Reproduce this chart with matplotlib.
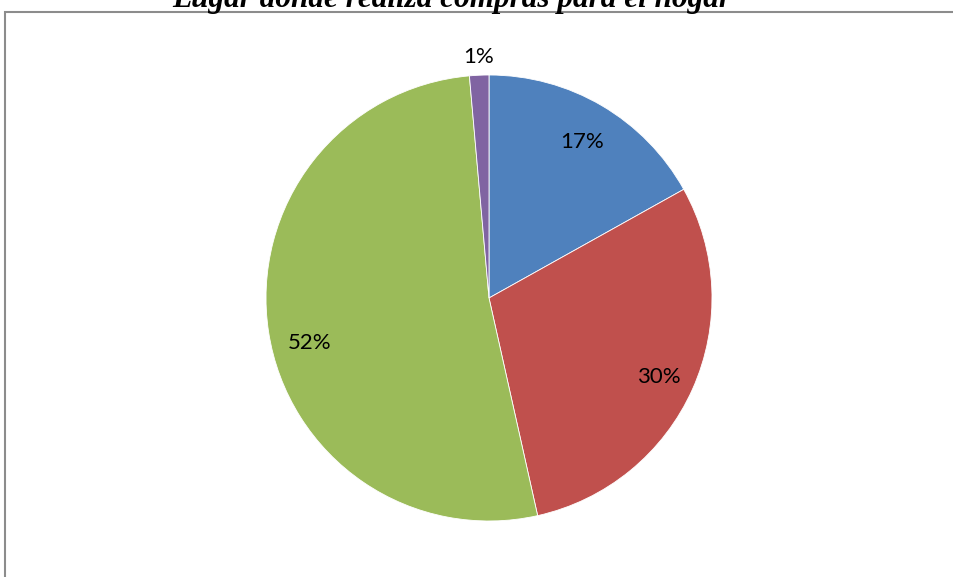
import matplotlib
matplotlib.use("Agg")
import matplotlib.pyplot as plt
from matplotlib.patches import Rectangle
import numpy as np

title = "Lugar donde realiza compras para el hogar"
shares = [16.9, 29.6, 52.1, 1.4]
colors = ["#4F81BD", "#C0504D", "#9BBB59", "#8064A2"]

W, H = 954, 577
fig = plt.figure(figsize=(W / 100, H / 100), dpi=100)
ax = fig.add_axes([0, 0, 1, 1])
ax.set_xlim(0, W)
ax.set_ylim(0, H)
ax.set_aspect("equal")
ax.axis("off")

# chart area border
ax.add_patch(Rectangle((5.5, -10), W + 20, H - 11.5 + 10, fill=False,
                       edgecolor="#8c8c8c", linewidth=1.5, zorder=0))

cx, cy, r = 489, 279, 223
wedges, texts, autotexts = ax.pie(
    shares, colors=colors, startangle=90, counterclock=False,
    center=(cx, cy), radius=r, autopct=lambda p: f"{p:.0f}%",
    pctdistance=0.825, frame=False,
    wedgeprops=dict(edgecolor="white", linewidth=0.6),
    textprops=dict(fontsize=16, family="Lato", color="black"))

# label placement: radial fraction and angular nudge (degrees) per slice
label_dist = [0.825, 0.835, 0.825, 1.095]
label_nudge = [0.0, 0.0, 4.5, 0.0]
for w, t, d, n in zip(wedges, autotexts, label_dist, label_nudge):
    mid = np.deg2rad((w.theta1 + w.theta2) / 2 + n)
    t.set_position((cx + d * r * np.cos(mid), cy + d * r * np.sin(mid) - 3))

ax.set_xlim(0, W)
ax.set_ylim(0, H)

ax.text(452, H - 7, title, ha="center", va="baseline", fontsize=22.5,
        family="Liberation Serif", fontweight="bold", fontstyle="italic")

fig.savefig("out.png", dpi=100)
